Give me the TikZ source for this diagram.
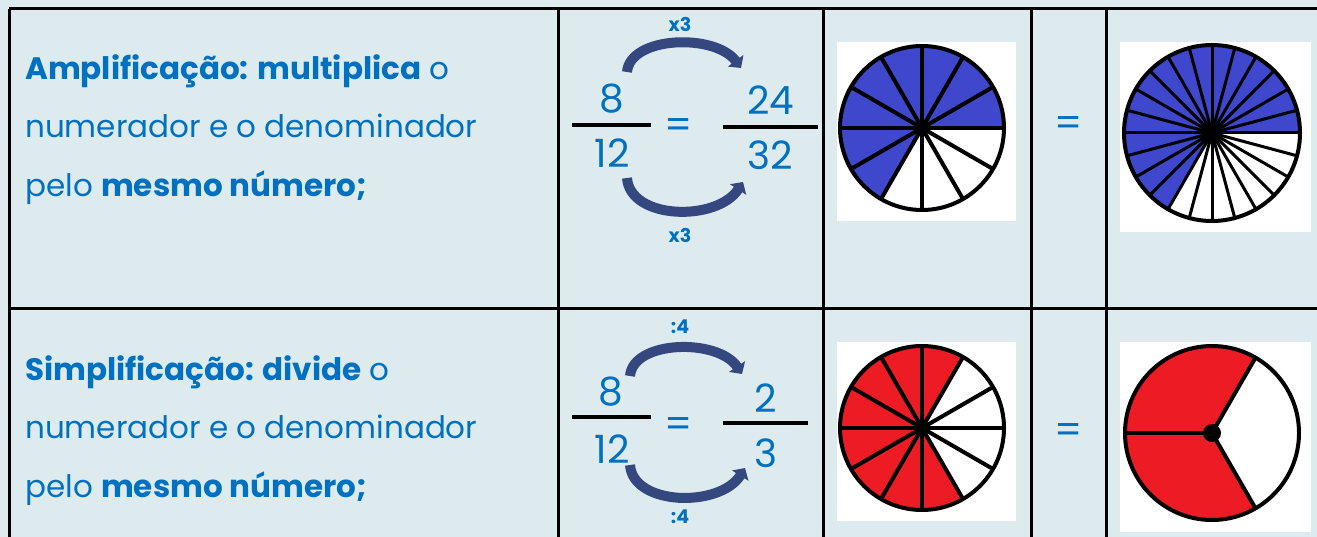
\documentclass[tikz,border=0pt]{standalone}
\usepackage{fontspec}
\setmainfont{Poppins}
\usetikzlibrary{arrows.meta}
\definecolor{bg}{HTML}{DDEBEF}
\definecolor{txtblue}{HTML}{0070C0}
\definecolor{arrowblue}{HTML}{34487F}
\definecolor{pieblue}{HTML}{3F48CC}
\definecolor{piered}{HTML}{ED1C24}
\begin{document}
\begin{tikzpicture}[x=1pt,y=-1pt,
  grid/.style={line width=3pt,black},
  txt/.style={text=txtblue,font=\fontsize{31}{31}\selectfont,inner sep=0pt,anchor=base west},
  num/.style={text=txtblue,font=\fontsize{39}{39}\selectfont,inner sep=0pt,anchor=base},
  eqsign/.style={text=txtblue,font=\fontsize{39}{39}\selectfont,inner sep=0pt},
  oplabel/.style={text=txtblue,font=\bfseries\fontsize{19}{19}\selectfont,inner sep=0pt},
  fracbar/.style={line width=4pt,black},
  curvarrow/.style={line width=10pt,arrowblue,-{Triangle[length=9pt,width=19pt]}},
  spoke/.style={line width=4pt,black},
  rim/.style={line width=4pt,black},
]
\fill[bg] (0,0) rectangle (1317,537);
\useasboundingbox (0,0) rectangle (1317,537);

% grid
\draw[grid] (9,9) -- (1317,9);
\draw[grid] (9,309) -- (1317,309);
\foreach \xx in {9,558,823,1031,1106} \draw[grid] (\xx,9) -- (\xx,537);

% row 1 text
\node[txt] (r1a) at (25,80) {\textbf{Amplificação: multiplica} o};
\node[txt] (r1b) at (25,138) {numerador e o denominador};
\node[txt] (r1c) at (25,197) {pelo \textbf{mesmo número;}};
% row 2 text
\node[txt] (r2a) at (25,380) {\textbf{Simplificação: divide} o};
\node[txt] (r2b) at (25,438) {numerador e o denominador};
\node[txt] (r2c) at (25,497) {pelo \textbf{mesmo número;}};

% row 1 fractions
\node[num] (n1a) at (612,113) {8};
\node[num] (d1a) at (612,168) {12};
\draw[fracbar] (572,125) -- (651,125);
\node[eqsign] (e1) at (679,129) {=};
\node[num] (n1b) at (771,115) {24};
\node[num] (d1b) at (770,170) {32};
\draw[fracbar] (723,127) -- (818,127);
\coordinate (a1s) at (627,72);
\coordinate (a1e) at (741,68);
\draw[curvarrow] (a1s) .. controls (630,36) and (715,33) .. (a1e);
\coordinate (b1s) at (627,178);
\coordinate (b1e) at (743,182);
\draw[curvarrow] (b1s) .. controls (630,220) and (717,222) .. (b1e);
\node[oplabel] (l1t) at (680,24) {x3};
\node[oplabel] (l1b) at (680,235) {x3};

% row 2 fractions
\node[num] (n2a) at (611,405) {8};
\node[num] (d2a) at (612,463) {12};
\draw[fracbar] (572,417) -- (651,417);
\node[eqsign] (e2) at (679,428) {=};
\node[num] (n2b) at (766,412) {2};
\node[num] (d2b) at (766,467) {3};
\draw[fracbar] (723,423) -- (808,423);
\coordinate (a2s) at (630,376);
\coordinate (a2e) at (742,374);
\draw[curvarrow] (a2s) .. controls (633,340) and (718,338) .. (a2e);
\coordinate (b2s) at (630,465);
\coordinate (b2e) at (745,468);
\draw[curvarrow] (b2s) .. controls (633,506) and (720,508) .. (b2e);
\node[oplabel] (l2t) at (680,327) {:4};
\node[oplabel] (l2b) at (680,517) {:4};

% equals signs column 4
\node[eqsign] (e3) at (1069,127) {=};
\node[eqsign] (e4) at (1069,434) {=};

% pie 1: 8/12 blue
\fill[white] (837,42) rectangle (1016,221);
\begin{scope}[shift={(922,128)},yscale=-1]
  \fill[pieblue] (0,0) -- (0:82) arc[start angle=0,end angle=240,radius=82] -- cycle;
  \foreach \a in {0,30,...,330} \draw[spoke] (0,0) -- (\a:82);
  \draw[rim] (0,0) circle[radius=82];
  \fill[black] (0,0) circle[radius=6];
\end{scope}

% pie 2: 16/24 blue
\fill[white] (1120,42) rectangle (1311,232);
\begin{scope}[shift={(1212,133)},yscale=-1]
  \fill[pieblue] (0,0) -- (0:88) arc[start angle=0,end angle=240,radius=88] -- cycle;
  \foreach \a in {0,15,...,345} \draw[line width=3pt,black] (0,0) -- (\a:88);
  \draw[rim] (0,0) circle[radius=88];
  \fill[black] (0,0) circle[radius=7];
\end{scope}

% pie 3: 8/12 red
\fill[white] (837,342) rectangle (1016,521);
\begin{scope}[shift={(922,428)},yscale=-1]
  \fill[piered] (0,0) -- (60:82) arc[start angle=60,end angle=300,radius=82] -- cycle;
  \foreach \a in {0,30,...,330} \draw[spoke] (0,0) -- (\a:82);
  \draw[rim] (0,0) circle[radius=82];
  \fill[black] (0,0) circle[radius=6];
\end{scope}

% pie 4: 2/3 red
\fill[white] (1120,342) rectangle (1311,532);
\begin{scope}[shift={(1212,433)},yscale=-1]
  \fill[piered] (0,0) -- (60:87) arc[start angle=60,end angle=300,radius=87] -- cycle;
  \foreach \a in {60,180,300} \draw[spoke] (0,0) -- (\a:87);
  \draw[rim] (0,0) circle[radius=87];
  \fill[black] (0,0) circle[radius=9];
\end{scope}
\end{tikzpicture}
\end{document}
